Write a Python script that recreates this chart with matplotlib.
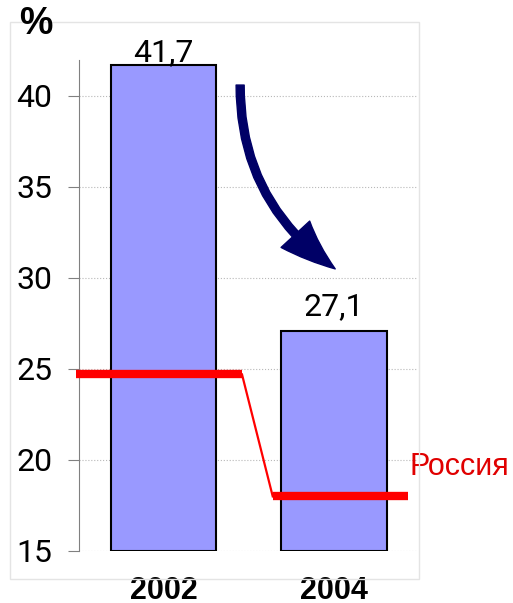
import matplotlib.pyplot as plt
from matplotlib.patches import FancyArrowPatch, Rectangle

# данные
years = ['2002', '2004']
values = [41.7, 27.1]
value_labels = ['41,7', '27,1']
russia = [24.7, 18.0]
yticks = [15, 20, 25, 30, 35, 40]

plt.rcParams['font.family'] = ['Roboto', 'DejaVu Sans']

fig = plt.figure(figsize=(5.13, 6.03), dpi=100)
ax = fig.add_axes([79 / 513, 52 / 603, 339 / 513, 530 / 603])

# рамка вокруг области графика
fig.patches.append(Rectangle((10 / 513, 24 / 603), 409 / 513, 557 / 603,
                             transform=fig.transFigure, fill=False,
                             edgecolor='#e4e4e4', lw=1))

x = list(range(len(years)))
ax.bar(x, [v - 15 for v in values], width=0.62, bottom=15, color='#9999ff',
       edgecolor='black', linewidth=1.5, zorder=2)

label_offsets = [3, 11]  # отступ подписи над столбцом, pt
for i, v in enumerate(values):
    ax.annotate(value_labels[i], (x[i], v), xytext=(0, label_offsets[i]),
                textcoords='offset points', ha='center', va='baseline', fontsize=23)

# линия по России
left = [-0.51, -0.36]
right = [0.46, 0.43]
ax.plot([x[0] + right[0], x[1] + left[1]], russia, color='red', lw=1.6,
        zorder=3, clip_on=False)
for i in x:
    ax.plot([x[i] + left[i], x[i] + right[i]], [russia[i], russia[i]],
            color='red', lw=6, solid_capstyle='butt', zorder=4, clip_on=False)
ax.text(1.444, 19.18, 'Россия', color='#e00000', fontsize=22,
        family=['Liberation Sans', 'DejaVu Sans'], ha='left', va='baseline',
        clip_on=False)

# стрелка
arr = FancyArrowPatch((0.449, 40.6), (1.006, 30.5),
                      connectionstyle='arc3,rad=0.26',
                      arrowstyle='simple,head_length=38,head_width=28,tail_width=5.8',
                      mutation_scale=1, shrinkA=0, shrinkB=0,
                      color='#000066', zorder=5)
ax.add_patch(arr)

ax.set_xlim(-0.495, 1.491)
ax.set_ylim(15, 44.12)
ax.set_yticks(yticks)
ax.set_xticks(x)
ax.set_xticklabels(years, fontsize=22, fontweight='bold',
                   family=['Liberation Sans', 'DejaVu Sans'])
ax.tick_params(axis='x', length=0, pad=18)
ax.tick_params(axis='y', labelsize=23, length=8, color='#808080', pad=11)

ax.yaxis.grid(True, linestyle=':', color='#b8b8b8', lw=0.8, zorder=0)
ax.set_axisbelow(True)
for s in ['top', 'right', 'bottom']:
    ax.spines[s].set_visible(False)
ax.spines['left'].set_color('#808080')
ax.spines['left'].set_bounds(15, 42)

fig.text(36 / 513, 1 - 24 / 603, '%', fontsize=27, fontweight='bold',
         family=['Liberation Sans', 'DejaVu Sans'], ha='center', va='center')

plt.savefig('out.png', dpi=100)
